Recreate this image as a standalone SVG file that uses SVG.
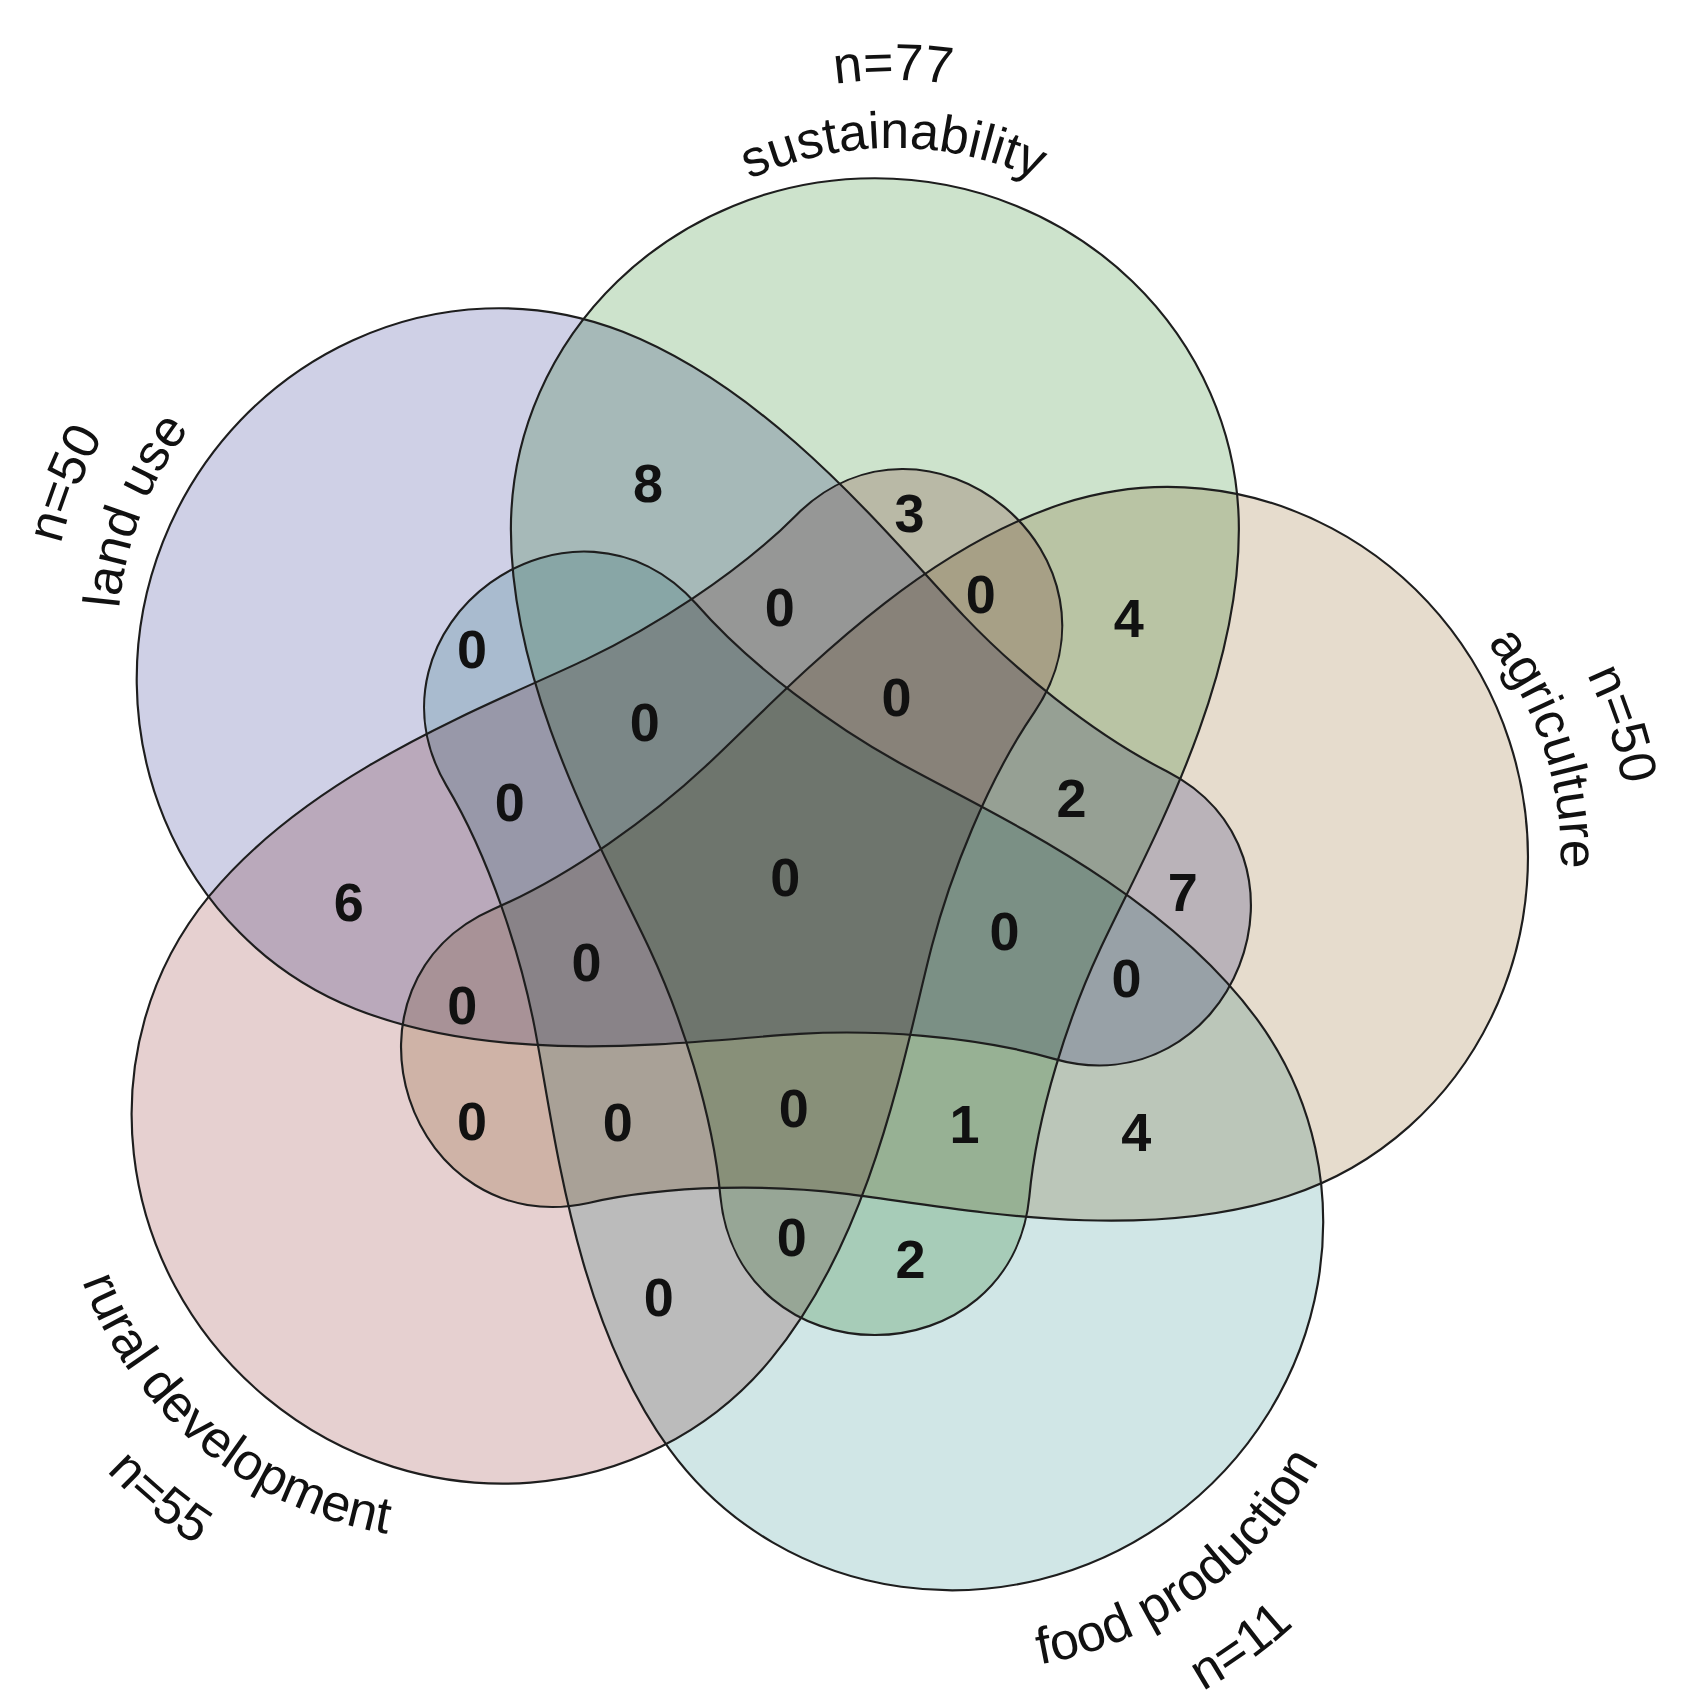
<svg xmlns="http://www.w3.org/2000/svg" xmlns:xlink="http://www.w3.org/1999/xlink" width="1685" height="1706" viewBox="0 0 1685 1706">
<style>
.shape{stroke:none;mix-blend-mode:multiply}
.outline{fill:none;stroke:#1e1e1e;stroke-width:2}
.cnt{font-family:"Liberation Sans",Arial,sans-serif;font-weight:bold;font-size:50px;text-anchor:middle;fill:#111}
.lbl{font-family:"Liberation Sans",Arial,sans-serif;font-size:48px;fill:#111}
</style>
<defs>
<path id="egg" d="M810,165 C996,165 1147,311 1147,490 C1147,640 1060,790 1018,880 C990,940 960,1030 953,1108 C945,1190 880,1236 810,1236 C740,1236 675,1190 667,1108 C660,1030 630,940 602,880 C560,790 473,640 473,490 C473,311 624,165 810,165 Z"/>
<path id="arcN1" d="M509,455 A318 318 0 0 1 1145,455"/>
<path id="arcN2" d="M446,455 A381 381 0 0 1 1208,455"/>
<path id="arcF1" d="M1192,455 A365 365 0 0 0 462,455"/>
<path id="arcF2" d="M1267,455 A440 440 0 0 0 387,455"/>
</defs>
<rect width="1685" height="1706" fill="#fff"/>
<g transform="scale(1.0801)">
<g id="sustainability">
<use xlink:href="#egg" class="shape" fill="#cde3cc"/>
<text class="lbl"><textPath xlink:href="#arcN1" startOffset="50%" text-anchor="middle">sustainability</textPath></text>
<text class="lbl"><textPath xlink:href="#arcN2" startOffset="50%" text-anchor="middle">n=77</textPath></text>
</g>
<g id="agriculture" transform="rotate(72 745 830)">
<use xlink:href="#egg" class="shape" fill="#e6dccd"/>
<text class="lbl"><textPath xlink:href="#arcN1" startOffset="50%" text-anchor="middle">agriculture</textPath></text>
<text class="lbl"><textPath xlink:href="#arcN2" startOffset="50%" text-anchor="middle">n=50</textPath></text>
</g>
<g id="food-production" transform="rotate(144 745 830)">
<use xlink:href="#egg" class="shape" fill="#d0e6e6"/>
<text class="lbl"><textPath xlink:href="#arcF1" startOffset="50%" text-anchor="middle">food production</textPath></text>
<text class="lbl"><textPath xlink:href="#arcF2" startOffset="50%" text-anchor="middle">n=11</textPath></text>
</g>
<g id="rural-development" transform="rotate(3.6 840 440) rotate(216 745 830)">
<use xlink:href="#egg" class="shape" fill="#e6d0d0"/>
<text class="lbl"><textPath xlink:href="#arcF1" startOffset="50%" text-anchor="middle">rural development</textPath></text>
<text class="lbl"><textPath xlink:href="#arcF2" startOffset="50%" text-anchor="middle">n=55</textPath></text>
</g>
<g id="land-use" transform="rotate(3.5 1140 830) rotate(288 745 830)">
<use xlink:href="#egg" class="shape" fill="#cfd0e6"/>
<text class="lbl"><textPath xlink:href="#arcN1" startOffset="50%" text-anchor="middle">land use</textPath></text>
<text class="lbl"><textPath xlink:href="#arcN2" startOffset="50%" text-anchor="middle">n=50</textPath></text>
</g>
<g id="outlines">
<use xlink:href="#egg" class="outline"/>
<use xlink:href="#egg" class="outline" transform="rotate(72 745 830)"/>
<use xlink:href="#egg" class="outline" transform="rotate(144 745 830)"/>
<use xlink:href="#egg" class="outline" transform="rotate(3.6 840 440) rotate(216 745 830)"/>
<use xlink:href="#egg" class="outline" transform="rotate(3.5 1140 830) rotate(288 745 830)"/>
</g>
<g id="counts" class="cnt">
<text x="600" y="465">8</text>
<text x="842" y="493">3</text>
<text x="722" y="580">0</text>
<text x="908" y="568">0</text>
<text x="1045" y="590">4</text>
<text x="437" y="618">0</text>
<text x="597" y="686">0</text>
<text x="830" y="663">0</text>
<text x="472" y="760">0</text>
<text x="992" y="756">2</text>
<text x="727" y="830">0</text>
<text x="1095" y="843">7</text>
<text x="323" y="853">6</text>
<text x="930" y="880">0</text>
<text x="543" y="908">0</text>
<text x="1043" y="923">0</text>
<text x="428" y="948">0</text>
<text x="437" y="1055">0</text>
<text x="572" y="1056">0</text>
<text x="735" y="1043">0</text>
<text x="893" y="1058">1</text>
<text x="1052" y="1066">4</text>
<text x="733" y="1163">0</text>
<text x="843" y="1183">2</text>
<text x="610" y="1218">0</text>
</g>
</g>
</svg>
